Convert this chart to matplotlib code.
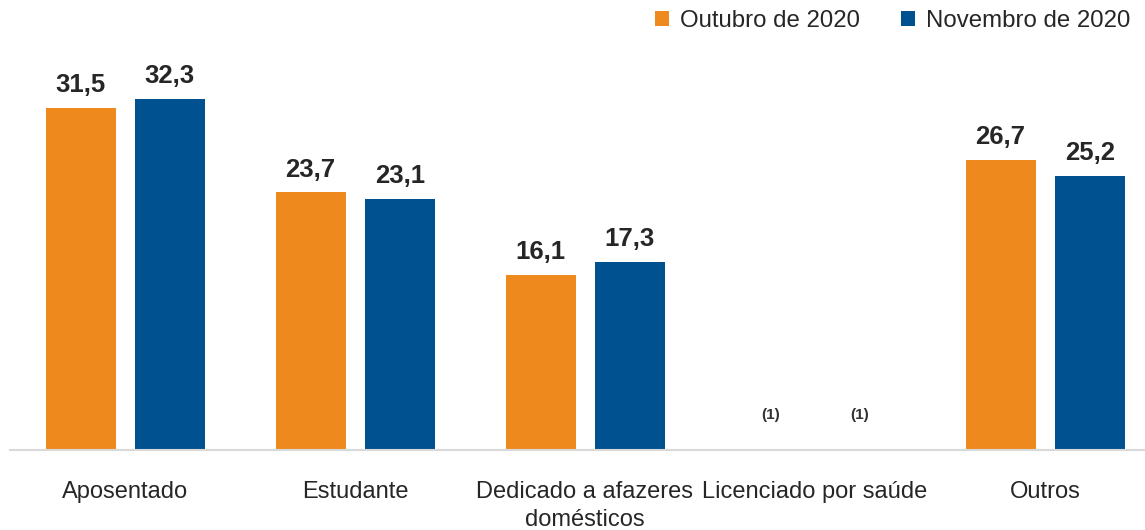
import matplotlib
matplotlib.use('Agg')
import matplotlib.pyplot as plt
from matplotlib import font_manager

names = set(f.name for f in font_manager.fontManager.ttflist)
fam = 'Liberation Sans Narrow' if 'Liberation Sans Narrow' in names else 'Liberation Sans'
plt.rcParams['font.family'] = [fam, 'DejaVu Sans']

categories = ['Aposentado', 'Estudante', 'Dedicado a afazeres\ndomésticos',
              'Licenciado por saúde', 'Outros']
outubro = [31.5, 23.7, 16.1, None, 26.7]
novembro = [32.3, 23.1, 17.3, None, 25.2]
series_names = ['Outubro de 2020', 'Novembro de 2020']
colors = ['#EE8A1D', '#00518F']

fig = plt.figure(figsize=(11.45, 5.3), dpi=100)
ax = fig.add_axes([10/1145, 80/530, 1135/1145, 450/530])

w = 0.304
offs = [-0.193, 0.195]
for vals, off, c, name in zip([outubro, novembro], offs, colors, series_names):
    for i, v in enumerate(vals):
        x = i + off
        if v is None:
            ax.text(x, 2.6, '(1)', ha='center', va='bottom', fontsize=11,
                    fontweight='bold', color='#333333')
            continue
        ax.bar(x, v, width=w, color=c, label=name if i == 0 else None)
        ax.text(x, v + 1.0, f'{v:.1f}'.replace('.', ','), ha='center', va='bottom',
                fontsize=18.5, fontweight='bold', color='#262626')

ax.set_xlim(-0.5, 4.435)
ax.set_ylim(0, 41.4)
ax.set_yticks([])
ax.set_xticks(range(len(categories)))
ax.set_xticklabels(categories, fontsize=17, color='#262626', linespacing=1.35)
ax.tick_params(axis='x', length=0, pad=22)
for s in ['top', 'right', 'left']:
    ax.spines[s].set_visible(False)
ax.spines['bottom'].set_color('#d9d9d9')
ax.spines['bottom'].set_linewidth(1.5)

ax.legend(loc='upper right', bbox_to_anchor=(1.0, 1.01), ncol=2, frameon=False,
          fontsize=17.3, handlelength=0.6, handleheight=0.6, handletextpad=0.45,
          columnspacing=1.7, labelcolor='#262626', borderaxespad=0.2)

fig.savefig('out.png', dpi=100)
